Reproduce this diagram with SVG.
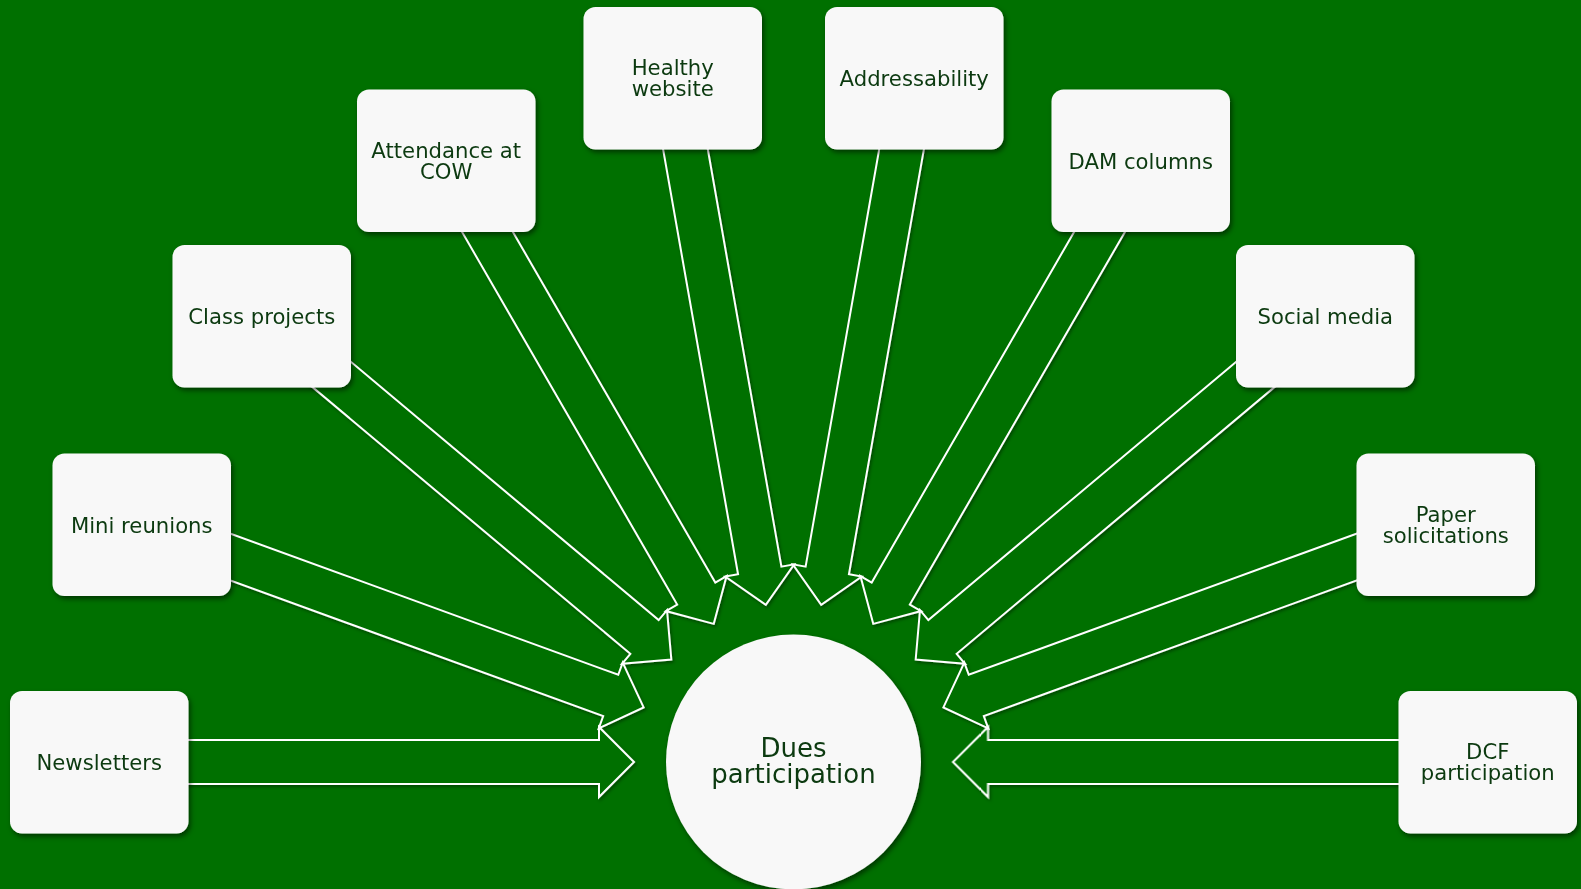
<svg xmlns="http://www.w3.org/2000/svg" xmlns:xlink="http://www.w3.org/1999/xlink" width="1581" height="889" viewBox="0 0 1581 889">
  <style>
    .box { fill: #f8f8f8; filter: url(#shadow); }
    .lbl { font-family: "DejaVu Sans", Verdana, sans-serif; font-size: 21.2px; fill: #0c3a10; text-anchor: middle; }
    .big { font-family: "DejaVu Sans", Verdana, sans-serif; font-size: 26px; fill: #0c3a10; text-anchor: middle; }
    .arr { fill: #007000; stroke: #ffffff; stroke-width: 2; stroke-linejoin: miter; }
  </style>
  <defs>
    <filter id="shadow" x="-10%" y="-10%" width="130%" height="130%">
      <feDropShadow dx="2" dy="3" stdDeviation="2.5" flood-color="#000" flood-opacity="0.5"/>
    </filter>
    <filter id="lshadow" x="-10%" y="-10%" width="130%" height="130%">
      <feDropShadow dx="1.5" dy="2" stdDeviation="1.5" flood-color="#000" flood-opacity="0.35"/>
    </filter>
    <path id="arrow" class="arr" d="M -694,-22 L -194.5,-22 L -194.5,-35 L -159.5,0 L -194.5,35 L -194.5,22 L -694,22 Z"/>
  </defs>
  <rect width="1581" height="889" fill="#007000"/>
  <g id="connectors" filter="url(#lshadow)">
    <use xlink:href="#arrow" href="#arrow" transform="translate(793.5 762) rotate(0)"/>
    <use xlink:href="#arrow" href="#arrow" transform="translate(793.5 762) rotate(20)"/>
    <use xlink:href="#arrow" href="#arrow" transform="translate(793.5 762) rotate(40)"/>
    <use xlink:href="#arrow" href="#arrow" transform="translate(793.5 762) rotate(60)"/>
    <use xlink:href="#arrow" href="#arrow" transform="translate(793.5 762) rotate(80)"/>
    <use xlink:href="#arrow" href="#arrow" transform="translate(793.5 762) rotate(100)"/>
    <use xlink:href="#arrow" href="#arrow" transform="translate(793.5 762) rotate(120)"/>
    <use xlink:href="#arrow" href="#arrow" transform="translate(793.5 762) rotate(140)"/>
    <use xlink:href="#arrow" href="#arrow" transform="translate(793.5 762) rotate(160)"/>
    <use xlink:href="#arrow" href="#arrow" transform="translate(793.5 762) rotate(180)"/>
  </g>
  <g id="dues">
    <circle cx="793.5" cy="762" r="127.5" class="box"/>
    <text class="big" x="793.5" y="756.5">Dues</text>
    <text class="big" x="793.5" y="783">participation</text>
  </g>
  <g id="newsletters">
    <rect class="box" x="10" y="691" width="178.5" height="142.5" rx="12"/>
    <text class="lbl" x="99.25" y="770">Newsletters</text>
  </g>
  <g id="mini-reunions">
    <rect class="box" x="52.5" y="453.5" width="178.5" height="142.5" rx="12"/>
    <text class="lbl" x="141.75" y="532.5">Mini reunions</text>
  </g>
  <g id="class-projects">
    <rect class="box" x="172.5" y="245" width="178.5" height="142.5" rx="12"/>
    <text class="lbl" x="261.75" y="324">Class projects</text>
  </g>
  <g id="attendance">
    <rect class="box" x="357" y="89.5" width="178.5" height="142.5" rx="12"/>
    <text class="lbl" x="446.25" y="157.75">Attendance at</text>
    <text class="lbl" x="446.25" y="178.75">COW</text>
  </g>
  <g id="healthy-website">
    <rect class="box" x="583.5" y="7" width="178.5" height="142.5" rx="12"/>
    <text class="lbl" x="672.75" y="75.25">Healthy</text>
    <text class="lbl" x="672.75" y="96.25">website</text>
  </g>
  <g id="addressability">
    <rect class="box" x="825" y="7" width="178.5" height="142.5" rx="12"/>
    <text class="lbl" x="914.25" y="86">Addressability</text>
  </g>
  <g id="dam-columns">
    <rect class="box" x="1051.5" y="89.5" width="178.5" height="142.5" rx="12"/>
    <text class="lbl" x="1140.75" y="168.5">DAM columns</text>
  </g>
  <g id="social-media">
    <rect class="box" x="1236" y="245" width="178.5" height="142.5" rx="12"/>
    <text class="lbl" x="1325.25" y="324">Social media</text>
  </g>
  <g id="paper-solicitations">
    <rect class="box" x="1356.5" y="453.5" width="178.5" height="142.5" rx="12"/>
    <text class="lbl" x="1445.75" y="521.75">Paper</text>
    <text class="lbl" x="1445.75" y="542.75">solicitations</text>
  </g>
  <g id="dcf-participation">
    <rect class="box" x="1398.5" y="691" width="178.5" height="142.5" rx="12"/>
    <text class="lbl" x="1487.75" y="759.25">DCF</text>
    <text class="lbl" x="1487.75" y="780.25">participation</text>
  </g>
</svg>
